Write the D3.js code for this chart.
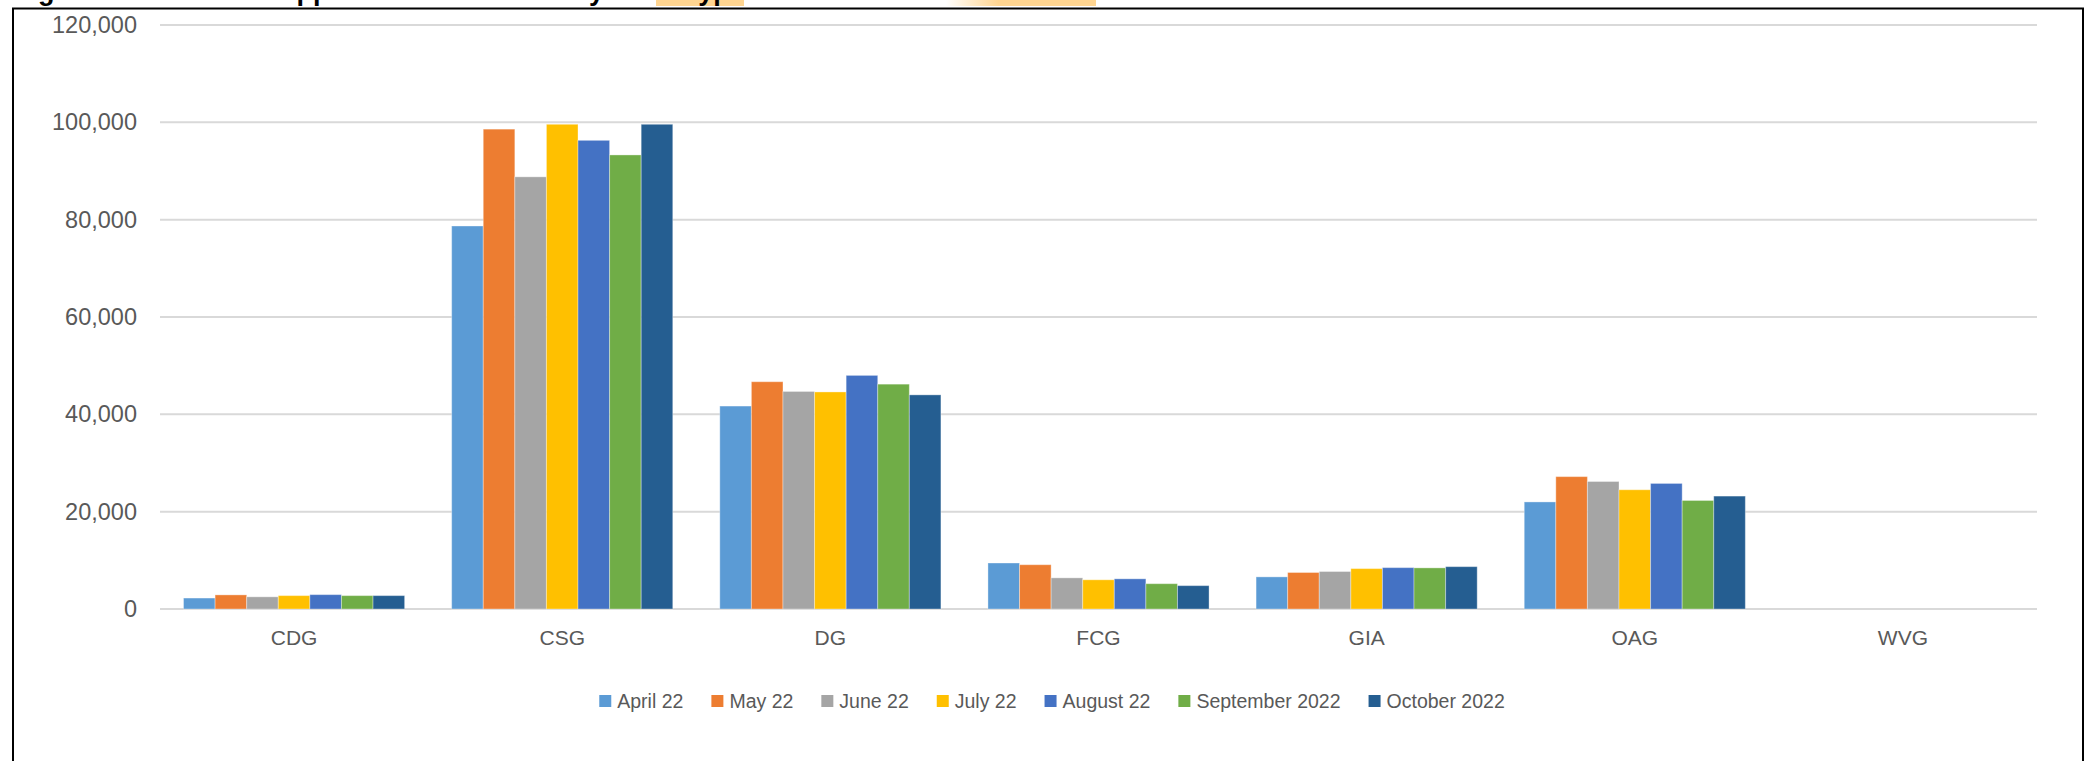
<!DOCTYPE html>
<html>
<head>
<meta charset="utf-8">
<script src="https://cdn.jsdelivr.net/npm/d3@7"></script>
<style>
  body { margin: 0; background: #fff; }
  svg { display: block; font-family: "Liberation Sans", Arial, sans-serif; }
</style>
</head>
<body>
<div id="chart"></div>
<script>
// categories and series
var groups = ["CDG", "CSG", "DG", "FCG", "GIA", "OAG", "WVG"];
var months = ["April 22", "May 22", "June 22", "July 22", "August 22", "September 2022", "October 2022"];
var colors = ["#5B9BD5", "#ED7D31", "#A5A5A5", "#FFC000", "#4472C4", "#70AD47", "#255E91"];
var yTicks = [0, 20000, 40000, 60000, 80000, 100000, 120000];

// one array per month, values in the same order as groups
var april22 = [2250, 78700, 41700, 9450, 6600, 22000, 0];
var may22 = [2900, 98600, 46700, 9100, 7500, 27200, 0];
var june22 = [2500, 88800, 44700, 6400, 7700, 26200, 0];
var july22 = [2750, 99600, 44600, 6000, 8300, 24500, 0];
var august22 = [2950, 96300, 48000, 6200, 8500, 25800, 0];
var september2022 = [2750, 93300, 46200, 5200, 8450, 22300, 0];
var october2022 = [2750, 99600, 44000, 4800, 8700, 23200, 0];

var series = [april22, may22, june22, july22, august22, september2022, october2022];

var width = 2094;
var height = 761;

var svg = d3.select("#chart")
    .append("svg")
    .attr("width", width)
    .attr("height", height);

// cut off caption above the frame, only the descenders show
svg.append("rect").attr("x", 656).attr("y", 0).attr("width", 88).attr("height", 6).attr("fill", "#FFD591");
var glow = svg.append("defs").append("linearGradient").attr("id", "glow");
glow.append("stop").attr("offset", "0%").attr("stop-color", "#FFD591").attr("stop-opacity", 0);
glow.append("stop").attr("offset", "35%").attr("stop-color", "#FFD591").attr("stop-opacity", 1);
glow.append("stop").attr("offset", "100%").attr("stop-color", "#FFD591").attr("stop-opacity", 1);
svg.append("rect").attr("x", 946).attr("y", 0).attr("width", 150).attr("height", 6).attr("fill", "url(#glow)");

svg.append("text")
    .attr("x", 14)
    .attr("y", 0)
    .attr("font-size", 27)
    .attr("font-weight", "bold")
    .attr("fill", "#000")
    .text("Figure 1: Number of Applications Received by Case Type");

// white cover so only the bottom of caption is visible
svg.append("rect").attr("x", 0).attr("y", 8).attr("width", width).attr("height", height).attr("fill", "#fff");

// frame
svg.append("path")
    .attr("d", "M13," + height + "V8.5H2083V" + height)
    .attr("fill", "none")
    .attr("stroke", "#000")
    .attr("stroke-width", 2);

var x0 = d3.scaleBand()
    .domain(groups)
    .range([160, 2037])
    .padding(0);

var bw = x0.bandwidth();
var x1 = d3.scaleBand()
    .domain(months)
    .range([bw * 0.0877, bw * 0.9123])
    .padding(0);

var y = d3.scaleLinear()
    .domain([0, 120000])
    .range([609, 25]);

var color = d3.scaleOrdinal()
    .domain(months)
    .range(colors);

// gridlines
svg.append("g")
    .selectAll("line")
    .data(yTicks)
    .enter().append("line")
    .attr("x1", 160)
    .attr("x2", 2037)
    .attr("y1", function (d) { return y(d); })
    .attr("y2", function (d) { return y(d); })
    .attr("stroke", "#D9D9D9")
    .attr("stroke-width", 2);

// y axis labels
var yAxis = d3.axisLeft(y)
    .tickValues(yTicks)
    .tickSize(0)
    .tickPadding(0)
    .tickFormat(d3.format(","));

svg.append("g")
    .attr("transform", "translate(137,0)")
    .call(yAxis)
    .call(function (g) { g.select(".domain").remove(); })
    .selectAll("text")
    .attr("font-size", 23.5)
    .attr("font-family", "Liberation Sans, Arial, sans-serif")
    .attr("fill", "#595959");

// bars
var rows = [];
groups.forEach(function (g, i) {
    months.forEach(function (m, j) {
        rows.push({ group: g, month: m, value: series[j][i] });
    });
});

svg.append("g")
    .selectAll("rect")
    .data(rows.filter(function (d) { return d.value > 0; }))
    .enter().append("rect")
    .attr("x", function (d) { return x0(d.group) + x1(d.month); })
    .attr("y", function (d) { return y(d.value); })
    .attr("width", x1.bandwidth())
    .attr("height", function (d) { return y(0) - y(d.value); })
    .attr("fill", function (d) { return color(d.month); })
    .attr("stroke", "#fff")
    .attr("stroke-opacity", 0.35)
    .attr("stroke-width", 1);

// x axis labels
var xAxis = d3.axisBottom(x0).tickSize(0).tickPadding(0);
svg.append("g")
    .attr("transform", "translate(0,630)")
    .call(xAxis)
    .call(function (g) { g.select(".domain").remove(); })
    .selectAll("text")
    .attr("font-size", 21)
    .attr("font-family", "Liberation Sans, Arial, sans-serif")
    .attr("fill", "#595959");

// legend, centered under the chart
var legend = svg.append("g").attr("class", "legend");
var item = legend.selectAll("g")
    .data(months)
    .enter().append("g");

item.append("rect")
    .attr("width", 12)
    .attr("height", 12)
    .attr("y", -6)
    .attr("fill", function (d) { return color(d); });

item.append("text")
    .attr("x", 18)
    .attr("dy", "0.35em")
    .attr("font-size", 19.5)
    .attr("fill", "#595959")
    .text(function (d) { return d; });

var cursor = 0;
item.each(function () {
    var g = d3.select(this);
    g.attr("transform", "translate(" + cursor + ",0)");
    cursor += 18 + g.select("text").node().getComputedTextLength() + 28;
});
cursor -= 28;
legend.attr("transform", "translate(" + (1052 - cursor / 2) + ",701)");
</script>
</body>
</html>
